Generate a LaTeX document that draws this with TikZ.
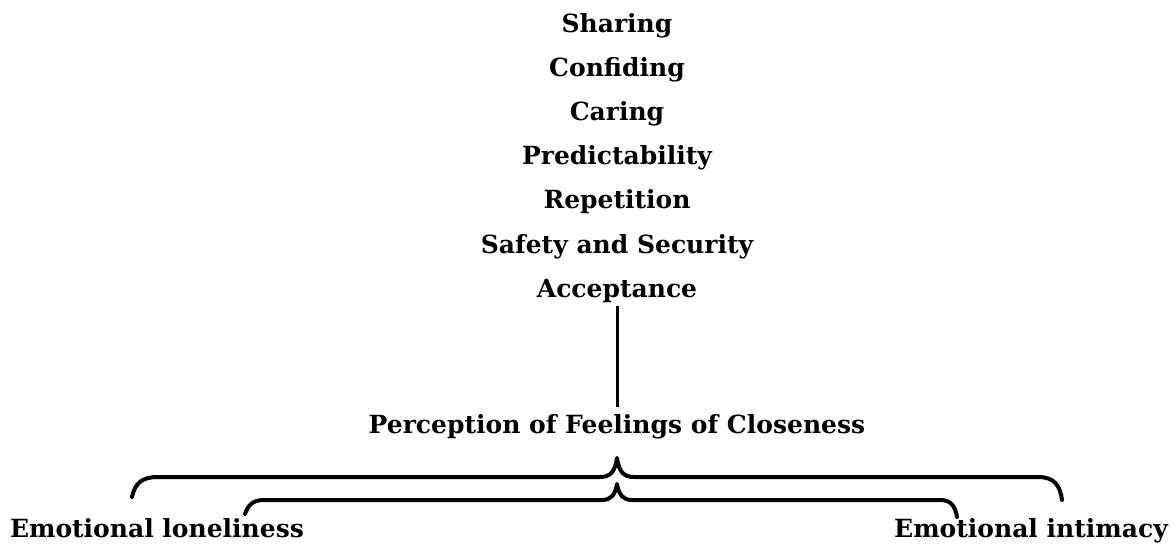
\documentclass[tikz,border=0pt]{standalone}
\usepackage{fontspec}
\setmainfont{DejaVu Serif}
\usepackage{tikz}
\usetikzlibrary{positioning,calc}

\begin{document}
\begin{tikzpicture}[x=1pt, y=-1pt,
    item/.style={font=\bfseries\fontsize{25}{30}\selectfont, inner sep=0pt, anchor=base},
    bracestroke/.style={line width=4pt, line cap=round, line join=round}]
    \useasboundingbox (0,0) rectangle (1174,558);

    \foreach \t [count=\i] in {Sharing, Confiding, Caring, Predictability, Repetition, Safety and Security, Acceptance}
        \node[item] (w\i) at (617, {32+44.2*(\i-1)}) {\t};

    \node[item] (percep) at (617,433) {Perception of Feelings of Closeness};
    \node[item] (lonely) at (157,537) {Emotional loneliness};
    \node[item] (intimacy) at (1031,537) {Emotional intimacy};

    \draw[line width=3pt, shorten <=3pt, shorten >=7pt] (w7.south) -- (percep.north);

    % outer brace
    \draw[bracestroke] (132,497) .. controls (135,483) and (142,477) .. (158,477)
        -- (600,477) .. controls (611,477) and (615,471) .. (617,458)
        .. controls (619,471) and (623,477) .. (634,477)
        -- (1038,477) .. controls (1054,477) and (1060,485) .. (1062,500);
    % inner brace
    \draw[bracestroke] (245,514) .. controls (248,505) and (253,500) .. (264,500)
        -- (602,500) .. controls (611,500) and (615,495) .. (617,484)
        .. controls (619,495) and (623,500) .. (632,500)
        -- (940,500) .. controls (951,500) and (955,506) .. (957,517);
\end{tikzpicture}
\end{document}
